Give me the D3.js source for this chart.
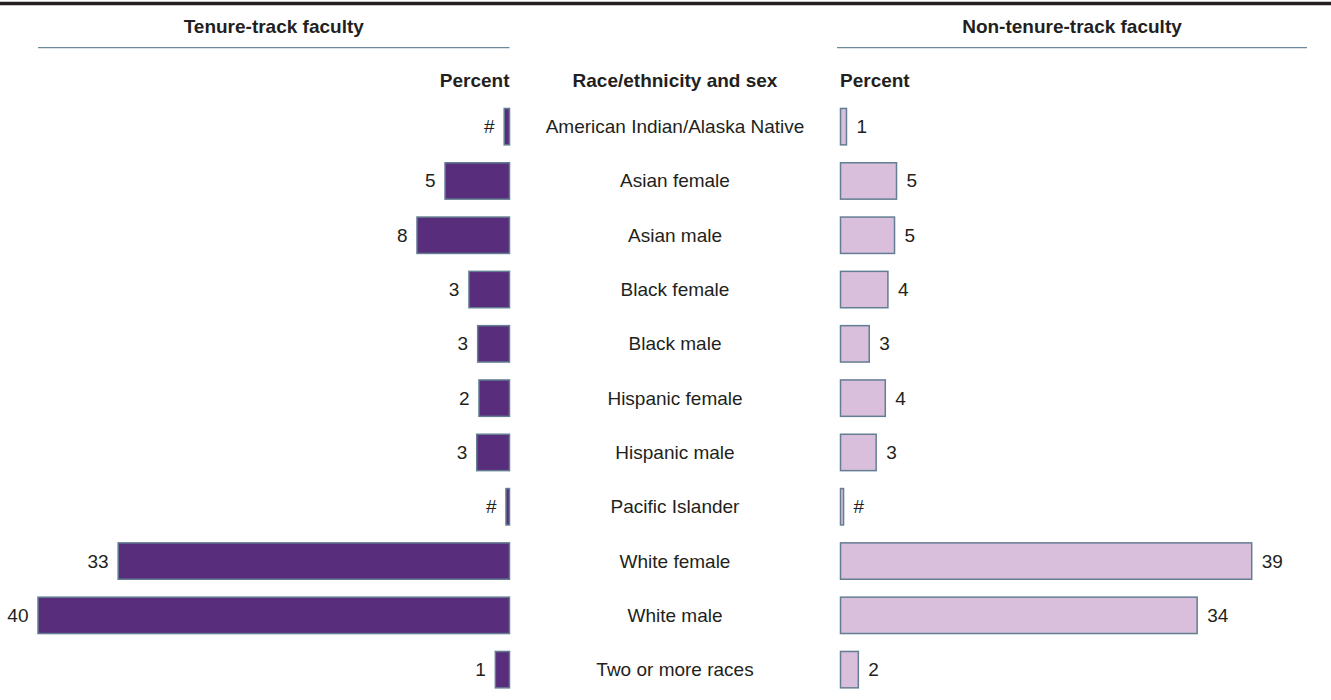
<!DOCTYPE html>
<html>
<head>
<meta charset="utf-8">
<script src="https://cdn.jsdelivr.net/npm/d3@7/dist/d3.min.js"></script>
<style>
  html, body { margin: 0; padding: 0; background: #fff; }
  svg { display: block; font-family: "Liberation Sans", Arial, Helvetica, sans-serif; }
</style>
</head>
<body>
<svg id="chart" width="1331" height="700"></svg>
<script>
// ---- Data ----
const categories = [
  "American Indian/Alaska Native", "Asian female", "Asian male", "Black female",
  "Black male", "Hispanic female", "Hispanic male", "Pacific Islander",
  "White female", "White male", "Two or more races"
];
const tenureValues = [0.45, 5.47, 7.85, 3.44, 2.70, 2.59, 2.78, 0.3, 33.2, 40.0, 1.2];
const tenureLabels = ["#", "5", "8", "3", "3", "2", "3", "#", "33", "40", "1"];
const nonTenureValues = [0.57, 5.34, 5.15, 4.52, 2.74, 4.27, 3.40, 0.29, 39.2, 34.0, 1.70];
const nonTenureLabels = ["1", "5", "5", "4", "3", "4", "3", "#", "39", "34", "2"];
const panelTitles = ["Tenure-track faculty", "Non-tenure-track faculty"];
const columnTitles = ["Percent", "Race/ethnicity and sex", "Percent"];

// ---- Layout ----
const W = 1331, H = 700;
const svg = d3.select("#chart");
const textColor = "#231f20";
const darkFill = "#582d7b";
const lightFill = "#d9bfdb";
const barStroke = "#637e92";
const ruleColor = "#6d899e";
const fs = 19;

const leftZero = 509.5, rightZero = 840.5, centerX = 675;

const y = d3.scaleBand()
  .domain(categories)
  .range([99.5, 696.8])
  .paddingInner(0.33)
  .paddingOuter(0.165);

const xL = d3.scaleLinear().domain([0, 40]).range([leftZero, 38]);
const xR = d3.scaleLinear().domain([0, 39.2]).range([rightZero, 1251.7]);

// top rule
svg.append("line")
  .attr("x1", 0).attr("x2", W).attr("y1", 3.5).attr("y2", 3.5)
  .attr("stroke", textColor).attr("stroke-width", 3.5);

// panel headers
const panels = [
  { title: panelTitles[0], x1: 38, x2: leftZero },
  { title: panelTitles[1], x1: 837, x2: 1307 }
];
panels.forEach(p => {
  svg.append("text")
    .attr("x", (p.x1 + p.x2) / 2).attr("y", 32.5)
    .attr("text-anchor", "middle")
    .attr("font-size", fs).attr("font-weight", "bold")
    .attr("fill", textColor)
    .text(p.title);
  svg.append("line")
    .attr("x1", p.x1).attr("x2", p.x2).attr("y1", 47.7).attr("y2", 47.7)
    .attr("stroke", ruleColor).attr("stroke-width", 1.3);
});

// column titles
svg.append("text").attr("x", leftZero).attr("y", 87).attr("text-anchor", "end")
  .attr("font-size", fs).attr("font-weight", "bold").attr("fill", textColor).text(columnTitles[0]);
svg.append("text").attr("x", centerX).attr("y", 87).attr("text-anchor", "middle")
  .attr("font-size", fs).attr("font-weight", "bold").attr("fill", textColor).text(columnTitles[1]);
svg.append("text").attr("x", rightZero - 0.5).attr("y", 87).attr("text-anchor", "start")
  .attr("font-size", fs).attr("font-weight", "bold").attr("fill", textColor).text(columnTitles[2]);

const rows = categories.map((c, i) => ({
  cat: c, tv: tenureValues[i], tl: tenureLabels[i], nv: nonTenureValues[i], nl: nonTenureLabels[i]
}));

// left bars
svg.append("g").selectAll("rect").data(rows).join("rect")
  .attr("x", d => xL(d.tv))
  .attr("y", d => y(d.cat))
  .attr("width", d => xL(0) - xL(d.tv))
  .attr("height", y.bandwidth())
  .attr("fill", darkFill)
  .attr("stroke", barStroke).attr("stroke-width", 1.5);

svg.append("g").selectAll("text").data(rows).join("text")
  .attr("x", d => xL(d.tv) - 9.5)
  .attr("y", d => y(d.cat) + y.bandwidth() / 2 + 6.5)
  .attr("text-anchor", "end")
  .attr("font-size", fs).attr("fill", textColor)
  .text(d => d.tl);

// right bars
svg.append("g").selectAll("rect").data(rows).join("rect")
  .attr("x", xR(0))
  .attr("y", d => y(d.cat))
  .attr("width", d => xR(d.nv) - xR(0))
  .attr("height", y.bandwidth())
  .attr("fill", lightFill)
  .attr("stroke", barStroke).attr("stroke-width", 1.5);

svg.append("g").selectAll("text").data(rows).join("text")
  .attr("x", d => xR(d.nv) + 10)
  .attr("y", d => y(d.cat) + y.bandwidth() / 2 + 6.5)
  .attr("text-anchor", "start")
  .attr("font-size", fs).attr("fill", textColor)
  .text(d => d.nl);

// category labels
svg.append("g").selectAll("text").data(rows).join("text")
  .attr("x", centerX)
  .attr("y", d => y(d.cat) + y.bandwidth() / 2 + 6.5)
  .attr("text-anchor", "middle")
  .attr("font-size", fs).attr("fill", textColor)
  .text(d => d.cat);
</script>
</body>
</html>
